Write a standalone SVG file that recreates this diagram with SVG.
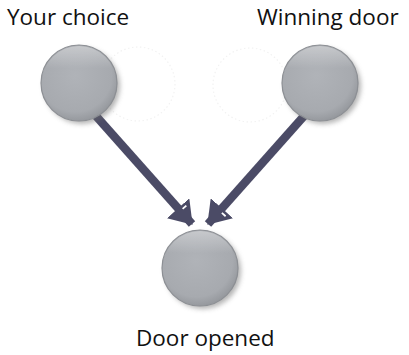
<svg xmlns="http://www.w3.org/2000/svg" width="409" height="355" viewBox="0 0 409 355">
  <style>
    .label { font-family: "Open Sans", "Liberation Sans", sans-serif; font-size: 22.5px; fill: #111; }
    .ghost { fill: none; stroke: #f2f2f2; stroke-width: 1.2; stroke-dasharray: 1.5 2.5; }
    .ball { fill: url(#ballFill); stroke: #8c8f94; stroke-width: 1.2; }
    .shade { fill: #6a6a6a; opacity: 0.5; filter: url(#speckle); }
    .edge { stroke: #4b4b66; stroke-width: 8.5; fill: none; marker-end: url(#head); }
  </style>
  <defs>
    <radialGradient id="ballFill" cx="0.45" cy="0.4" r="0.6">
      <stop offset="0" stop-color="#b0b3b8"/>
      <stop offset="0.8" stop-color="#a7aaaf"/>
      <stop offset="1" stop-color="#96999e"/>
    </radialGradient>
    <linearGradient id="rimLight" x1="0" y1="0" x2="0" y2="1">
      <stop offset="0" stop-color="#ffffff" stop-opacity="0.35"/>
      <stop offset="0.3" stop-color="#ffffff" stop-opacity="0"/>
    </linearGradient>
    <filter id="speckle" x="-20%" y="-20%" width="140%" height="140%">
      <feGaussianBlur stdDeviation="2.5"/>
    </filter>
    <marker id="head" markerUnits="userSpaceOnUse" viewBox="0 0 22 30" refX="21" refY="15" markerWidth="22" markerHeight="30" orient="auto">
      <path d="M0,0 L22,15 L0,30 Z" fill="#4b4b66"/>
      <line x1="3.5" y1="7" x2="3.5" y2="12" stroke="#ffffff" stroke-width="1.8"/>
    </marker>
  </defs>

  <!-- faint placeholder outlines -->
  <circle class="ghost" cx="138" cy="84" r="37"/>
  <circle class="ghost" cx="250" cy="85" r="37"/>

  <g id="connectors">
    <line class="edge" x1="96" y1="116" x2="192" y2="224"/>
    <line class="edge" x1="304" y1="116" x2="208" y2="224"/>
  </g>

  <g id="your-choice">
    <circle class="shade" cx="82" cy="86" r="38"/>
    <circle class="ball" cx="79" cy="83" r="38"/>
    <circle cx="79" cy="83" r="37" fill="url(#rimLight)"/>
    <text class="label" x="7" y="25">Your choice</text>
  </g>

  <g id="winning-door">
    <circle class="shade" cx="323" cy="86" r="38"/>
    <circle class="ball" cx="320" cy="83" r="38"/>
    <circle cx="320" cy="83" r="37" fill="url(#rimLight)"/>
    <text class="label" x="257" y="25">Winning door</text>
  </g>

  <g id="door-opened">
    <circle class="shade" cx="203" cy="271" r="38"/>
    <circle class="ball" cx="200" cy="268" r="38"/>
    <circle cx="200" cy="268" r="37" fill="url(#rimLight)"/>
    <text class="label" x="136" y="346">Door opened</text>
  </g>
</svg>
